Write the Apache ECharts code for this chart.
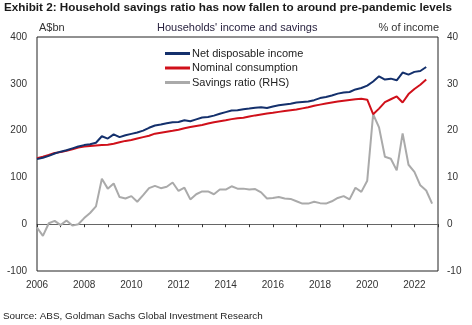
<!DOCTYPE html>
<html>
<head>
<meta charset="utf-8">
<script src="https://cdn.jsdelivr.net/npm/echarts@6/dist/echarts.min.js"></script>
<style>html,body{margin:0;padding:0;background:#fff;}#c{width:472px;height:325px;}</style>
</head>
<body>
<div id="c"></div>
<script>
const startYear = 2006;
const yearTicks = [2006,2008,2010,2012,2014,2016,2018,2020,2022];
const leftTicks = [-100,0,100,200,300,400];
const rightTicks = [-10,0,10,20,30,40];
const seriesNames = ['Net disposable income','Nominal consumption','Savings ratio (RHS)'];
// quarterly values from 2006Q1
const income = [139,142,146,151,155,158,162,166,169,171,174,188,183,192,186,190,193,196,200,206,
  211,213,215.5,218,218.5,222,220,224,228,229,232,236,239.5,243,243.5,245.5,247,249,250,248.3,
  251.5,254,256,257.5,260,261,262,265,269.5,272,275,279,281.5,282.5,288,291,296,305,316,309,
  311,307.5,324,319.7,325.5,327.4,336];
const consumption = [141,144,148,152,154,157,160,164,166,167,168,169,170,172,175,178,180,183,186,189,
  193.5,195.5,197.5,199.5,202,205,207.5,210,212,215,218,220,222,224.5,226.5,227.5,230,232.5,234.5,236.5,
  238,240,242,243.5,245,247.5,250,253,255.5,258,260,262,264,265.5,267,268,266,235,247,261,
  267,273,260,278,289,298,309];
const savings = [-0.7,-2.5,0.2,0.7,-0.2,0.8,-0.3,0.0,1.3,2.4,3.8,9.7,7.6,8.7,5.8,5.5,6.0,4.8,6.2,7.7,
  8.2,7.7,8.0,8.9,7.1,7.8,5.3,6.4,7.0,7.0,6.4,7.4,7.4,8.1,7.6,7.6,7.4,7.5,6.8,5.5,
  5.6,5.8,5.5,5.4,4.9,4.4,4.4,4.8,4.5,4.4,4.9,5.6,6.0,5.3,7.8,6.9,9.3,23.5,20.7,14.4,
  14.0,11.5,19.4,12.7,11.2,8.3,7.2,4.4];

const toXY = arr => arr.map((v,i)=>[startYear + i*0.25, v]);
const chart = echarts.init(document.getElementById('c'), null, {renderer:'canvas'});
const font = 'Arial, "Liberation Sans", sans-serif';
const gridTop = 37, gridBottom = 54, H = 325;
const zeroOffset = -(H - gridTop - gridBottom) * (0 - leftTicks[0]) / (leftTicks[leftTicks.length-1] - leftTicks[0]);
chart.setOption({
  animation:false,
  textStyle:{fontFamily:font},
  title:[
    {text:'Exhibit 2: Household savings ratio has now fallen to around pre-pandemic levels', left:4, top:2, padding:0,
     textStyle:{fontSize:11.7, fontWeight:'bold', color:'#1a1a1a', fontFamily:font}},
    {text:'A$bn', left:39, top:22, padding:0, textStyle:{fontSize:11, fontWeight:'normal', color:'#333', fontFamily:font}},
    {text:"Households' income and savings", left:157, top:22, padding:0, textStyle:{fontSize:11, fontWeight:'normal', color:'#2a2440', fontFamily:font}},
    {text:'% of income', right:33, top:22, padding:0, textStyle:{fontSize:11, fontWeight:'normal', color:'#333', fontFamily:font}},
    {text:'Source: ABS, Goldman Sachs Global Investment Research', left:3, top:311, padding:0, textStyle:{fontSize:9.9, fontWeight:'normal', color:'#222', fontFamily:font}}
  ],
  legend:{orient:'vertical', left:165, top:48, padding:0, itemWidth:25, itemHeight:3, itemGap:3.5, icon:'rect',
    data:seriesNames, textStyle:{fontSize:11, color:'#222', padding:[0,0,0,-3]}},
  grid:{left:37, right:34, top:gridTop, bottom:gridBottom, show:true, borderColor:'#222', borderWidth:1},
  xAxis:[
    {type:'value', min:2006, max:2023, interval:1, position:'bottom',
     axisLine:{show:false}, axisTick:{show:false}, splitLine:{show:false},
     axisLabel:{fontSize:10, color:'#333', margin:9, formatter:v=> yearTicks.includes(v)? String(v):''}},
    {type:'value', min:2006, max:2023, interval:1, position:'bottom', offset:zeroOffset,
     axisLine:{show:true, onZero:false, lineStyle:{color:'#666', width:1}},
     axisTick:{show:true, length:3, lineStyle:{color:'#333'}}, axisLabel:{show:false}, splitLine:{show:false}}
  ],
  yAxis:[
    {type:'value', min:leftTicks[0], max:leftTicks[leftTicks.length-1], interval:100, position:'left',
     axisLine:{show:false}, axisTick:{show:false}, splitLine:{show:false},
     axisLabel:{fontSize:10, color:'#333', margin:10}},
    {type:'value', min:rightTicks[0], max:rightTicks[rightTicks.length-1], interval:10, position:'right',
     axisLine:{show:false}, axisTick:{show:false}, splitLine:{show:false},
     axisLabel:{fontSize:10, color:'#333', margin:9}}
  ],
  series:[
    {name:seriesNames[0], type:'line', data:toXY(income), yAxisIndex:0, showSymbol:false, symbol:'none',
     lineStyle:{color:'#14306c', width:2}, itemStyle:{color:'#14306c'}, z:4},
    {name:seriesNames[1], type:'line', data:toXY(consumption), yAxisIndex:0, showSymbol:false, symbol:'none',
     lineStyle:{color:'#d0101a', width:2}, itemStyle:{color:'#d0101a'}, z:3},
    {name:seriesNames[2], type:'line', data:toXY(savings), yAxisIndex:1, showSymbol:false, symbol:'none',
     lineStyle:{color:'#aaaaaa', width:2}, itemStyle:{color:'#aaaaaa'}, z:2}
  ]
});
</script>
</body>
</html>
